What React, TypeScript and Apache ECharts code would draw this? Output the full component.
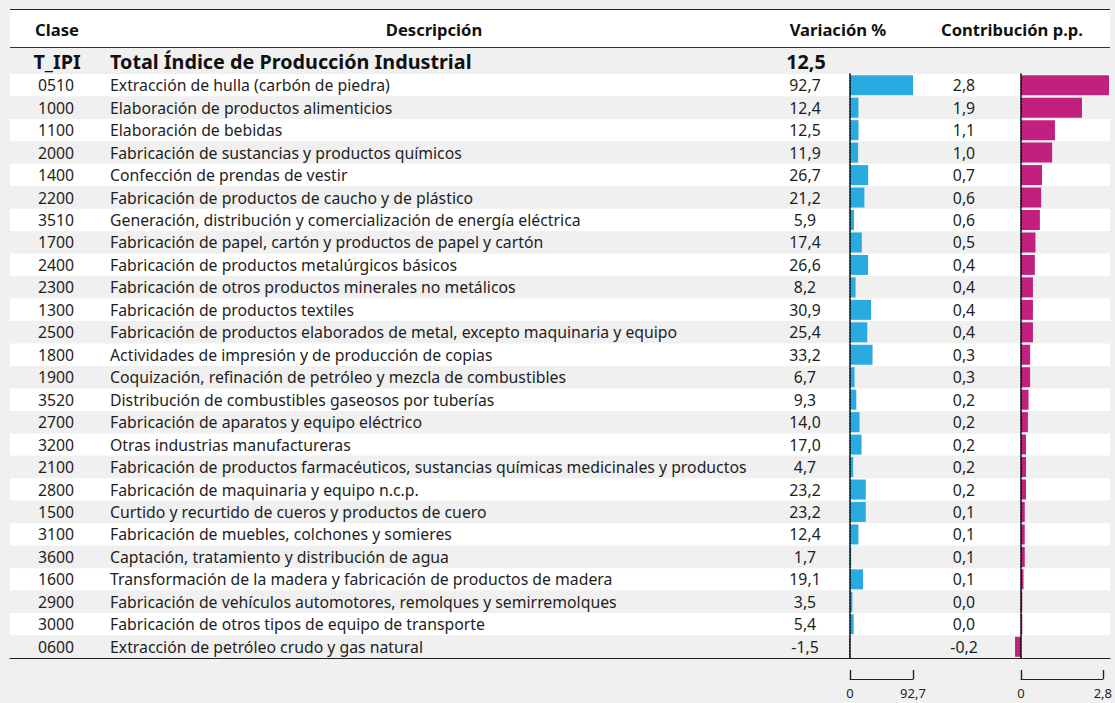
import React, { useEffect, useRef } from "react";
import * as echarts from "echarts";

const CLASES = [
  "0510", "1000", "1100", "2000", "1400", "2200", "3510", "1700", "2400",
  "2300", "1300", "2500", "1800", "1900", "3520", "2700", "3200", "2100",
  "2800", "1500", "3100", "3600", "1600", "2900", "3000", "0600",
];

const DESCRIPCIONES = [
  "Extracción de hulla (carbón de piedra)",
  "Elaboración de productos alimenticios",
  "Elaboración de bebidas",
  "Fabricación de sustancias y productos químicos",
  "Confección de prendas de vestir",
  "Fabricación de productos de caucho y de plástico",
  "Generación, distribución y comercialización de energía eléctrica",
  "Fabricación de papel, cartón y productos de papel y cartón",
  "Fabricación de productos metalúrgicos básicos",
  "Fabricación de otros productos minerales no metálicos",
  "Fabricación de productos textiles",
  "Fabricación de productos elaborados de metal, excepto maquinaria y equipo",
  "Actividades de impresión y de producción de copias",
  "Coquización, refinación de petróleo y mezcla de combustibles",
  "Distribución de combustibles gaseosos por tuberías",
  "Fabricación de aparatos y equipo eléctrico",
  "Otras industrias manufactureras",
  "Fabricación de productos farmacéuticos, sustancias químicas medicinales y productos",
  "Fabricación de maquinaria y equipo n.c.p.",
  "Curtido y recurtido de cueros y productos de cuero",
  "Fabricación de muebles, colchones y somieres",
  "Captación, tratamiento y distribución de agua",
  "Transformación de la madera y fabricación de productos de madera",
  "Fabricación de vehículos automotores, remolques y semirremolques",
  "Fabricación de otros tipos de equipo de transporte",
  "Extracción de petróleo crudo y gas natural",
];

const VARIACION = [
  92.7, 12.4, 12.5, 11.9, 26.7, 21.2, 5.9, 17.4, 26.6, 8.2, 30.9, 25.4, 33.2,
  6.7, 9.3, 14.0, 17.0, 4.7, 23.2, 23.2, 12.4, 1.7, 19.1, 3.5, 5.4, -1.5,
];

const CONTRIBUCION = [
  2.8, 1.94, 1.08, 0.99, 0.67, 0.64, 0.6, 0.46, 0.44, 0.38, 0.38, 0.38, 0.29,
  0.29, 0.24, 0.22, 0.16, 0.16, 0.16, 0.12, 0.12, 0.12, 0.08, 0.04, 0.04, -0.19,
];

const TOTAL_CLASE = "T_IPI";
const TOTAL_DESCRIPCION = "Total Índice de Producción Industrial";
const TOTAL_VARIACION = 12.5;

const HEADERS = ["Clase", "Descripción", "Variación %", "Contribución p.p."];

const VAR_SCALE = [0, 92.7];
const CON_SCALE = [0, 2.8];

const FONT = "'Noto Sans', 'Open Sans', sans-serif";
const BLUE = "#29abe2";
const MAGENTA = "#c1207f";
const TEXT = "#1e1e1e";

const fmt = (v: number) => v.toFixed(1).replace(".", ",").replace(/^-0,0$/, "0,0");

const ROWS_TOP = 74;
const ROWS_HEIGHT = 584;

export default function App() {
  const ref = useRef<HTMLDivElement>(null);

  useEffect(() => {
    document.body.style.margin = "0";
    document.body.style.background = "#f0f0f0";
    const chart = echarts.init(ref.current!, undefined, { renderer: "svg" });

    const hiddenValueAxis = (gridIndex: number, min: number, max: number) => ({
      type: "value" as const,
      gridIndex,
      min,
      max,
      show: true,
      axisLine: { show: false },
      axisTick: { show: false },
      axisLabel: { show: false },
      splitLine: { show: false },
    });

    const textAxis = (data: string[], align: string, x: number, extra: any = {}) => ({
      type: "category" as const,
      gridIndex: 0,
      data,
      inverse: true,
      position: "left" as const,
      axisLine: { show: false },
      axisTick: { show: false },
      splitLine: { show: false },
      axisLabel: {
        interval: 0,
        align,
        margin: -(x - 10),
        color: TEXT,
        fontFamily: FONT,
        fontSize: 15.8,
        ...extra,
      },
    });

    const zeroAxis = (gridIndex: number) => ({
      type: "category" as const,
      gridIndex,
      data: CLASES,
      inverse: true,
      axisLine: {
        show: true,
        onZero: true,
        lineStyle: { color: "#000", width: 1.5, type: [2, 1] },
      },
      axisTick: { show: false },
      axisLabel: { show: false },
      splitLine: { show: false },
      z: 5,
    });

    const scaleAxis = (gridIndex: number, range: number[]) => ({
      type: "value" as const,
      gridIndex,
      min: range[0],
      max: range[1],
      interval: range[1] - range[0],
      axisLine: { show: true, lineStyle: { color: "#222", width: 1.2 } },
      axisTick: { show: true, inside: true, length: 9, lineStyle: { color: "#222", width: 1.4 } },
      axisLabel: {
        show: true,
        margin: 7,
        fontSize: 13,
        fontFamily: FONT,
        color: TEXT,
        showMinLabel: true,
        showMaxLabel: true,
        formatter: (v: number) => (v === 0 ? "0" : fmt(v)),
      },
      splitLine: { show: false },
    });

    const hiddenY = (gridIndex: number) => ({
      type: "value" as const,
      gridIndex,
      show: false,
    });

    const option: any = {
      animation: false,
      backgroundColor: "#f0f0f0",
      grid: [
        { left: 10, width: 1100, top: ROWS_TOP, height: ROWS_HEIGHT },
        { left: 850 - 10 * (63 / 92.7), width: 102.7 * (63 / 92.7), top: ROWS_TOP, height: ROWS_HEIGHT },
        { left: 1021 - 0.4 * (88 / 2.8), width: 3.2 * (88 / 2.8), top: ROWS_TOP, height: ROWS_HEIGHT },
        { left: 850, width: 63, top: 600, height: 79 },
        { left: 1021, width: 88, top: 600, height: 79 },
      ],
      xAxis: [
        {
          type: "value",
          gridIndex: 0,
          min: 0,
          max: 1,
          axisLine: { show: true, onZero: false, lineStyle: { color: "#222", width: 1.2 } },
          axisTick: { show: false },
          axisLabel: { show: false },
          splitLine: { show: false },
        },
        hiddenValueAxis(1, -10, 92.7),
        hiddenValueAxis(2, -0.4, 2.8),
        scaleAxis(3, VAR_SCALE),
        scaleAxis(4, CON_SCALE),
      ],
      yAxis: [
        {
          ...textAxis(CLASES, "center", 56),
          splitArea: { show: true, areaStyle: { color: ["#ffffff", "#f0f0f0"] } },
        },
        textAxis(DESCRIPCIONES, "left", 110),
        textAxis(VARIACION.map(fmt), "center", 805),
        textAxis(CONTRIBUCION.map(fmt), "center", 964),
        zeroAxis(1),
        zeroAxis(2),
        hiddenY(3),
        hiddenY(4),
      ],
      graphic: [
        {
          type: "rect",
          shape: { x: 10, y: 9.5, width: 1100, height: 38 },
          style: { fill: "#ffffff" },
          z: 0,
        },
        {
          type: "line",
          shape: { x1: 10, y1: 9.5, x2: 1110, y2: 9.5 },
          style: { stroke: "#222", lineWidth: 1.2 },
        },
        {
          type: "line",
          shape: { x1: 10, y1: 47.5, x2: 1110, y2: 47.5 },
          style: { stroke: "#333", lineWidth: 1.2 },
        },
        ...[57, 434, 838, 1012].map((x, i) => ({
          type: "text",
          x,
          y: 29.5,
          style: {
            text: HEADERS[i],
            fill: "#111",
            font: `bold 16.6px ${FONT}`,
            textAlign: "center",
            textVerticalAlign: "middle",
          },
        })),
        {
          type: "text",
          x: 57,
          y: 61,
          style: {
            text: TOTAL_CLASE,
            fill: "#111",
            font: `bold 19.8px ${FONT}`,
            textAlign: "center",
            textVerticalAlign: "middle",
          },
        },
        {
          type: "text",
          x: 110,
          y: 61,
          style: {
            text: TOTAL_DESCRIPCION,
            fill: "#111",
            font: `bold 19.8px ${FONT}`,
            textAlign: "left",
            textVerticalAlign: "middle",
          },
        },
        {
          type: "text",
          x: 806,
          y: 61,
          style: {
            text: fmt(TOTAL_VARIACION),
            fill: "#111",
            font: `bold 19.8px ${FONT}`,
            textAlign: "center",
            textVerticalAlign: "middle",
          },
        },
      ],
      series: [
        {
          type: "bar",
          xAxisIndex: 1,
          yAxisIndex: 4,
          data: VARIACION,
          barWidth: 20,
          itemStyle: { color: BLUE },
        },
        {
          type: "bar",
          xAxisIndex: 2,
          yAxisIndex: 5,
          data: CONTRIBUCION,
          barWidth: 20,
          itemStyle: { color: MAGENTA },
        },
      ],
    };

    chart.setOption(option);
    return () => chart.dispose();
  }, []);

  return <div ref={ref} style={{ width: 1115, height: 703 }} />;
}
